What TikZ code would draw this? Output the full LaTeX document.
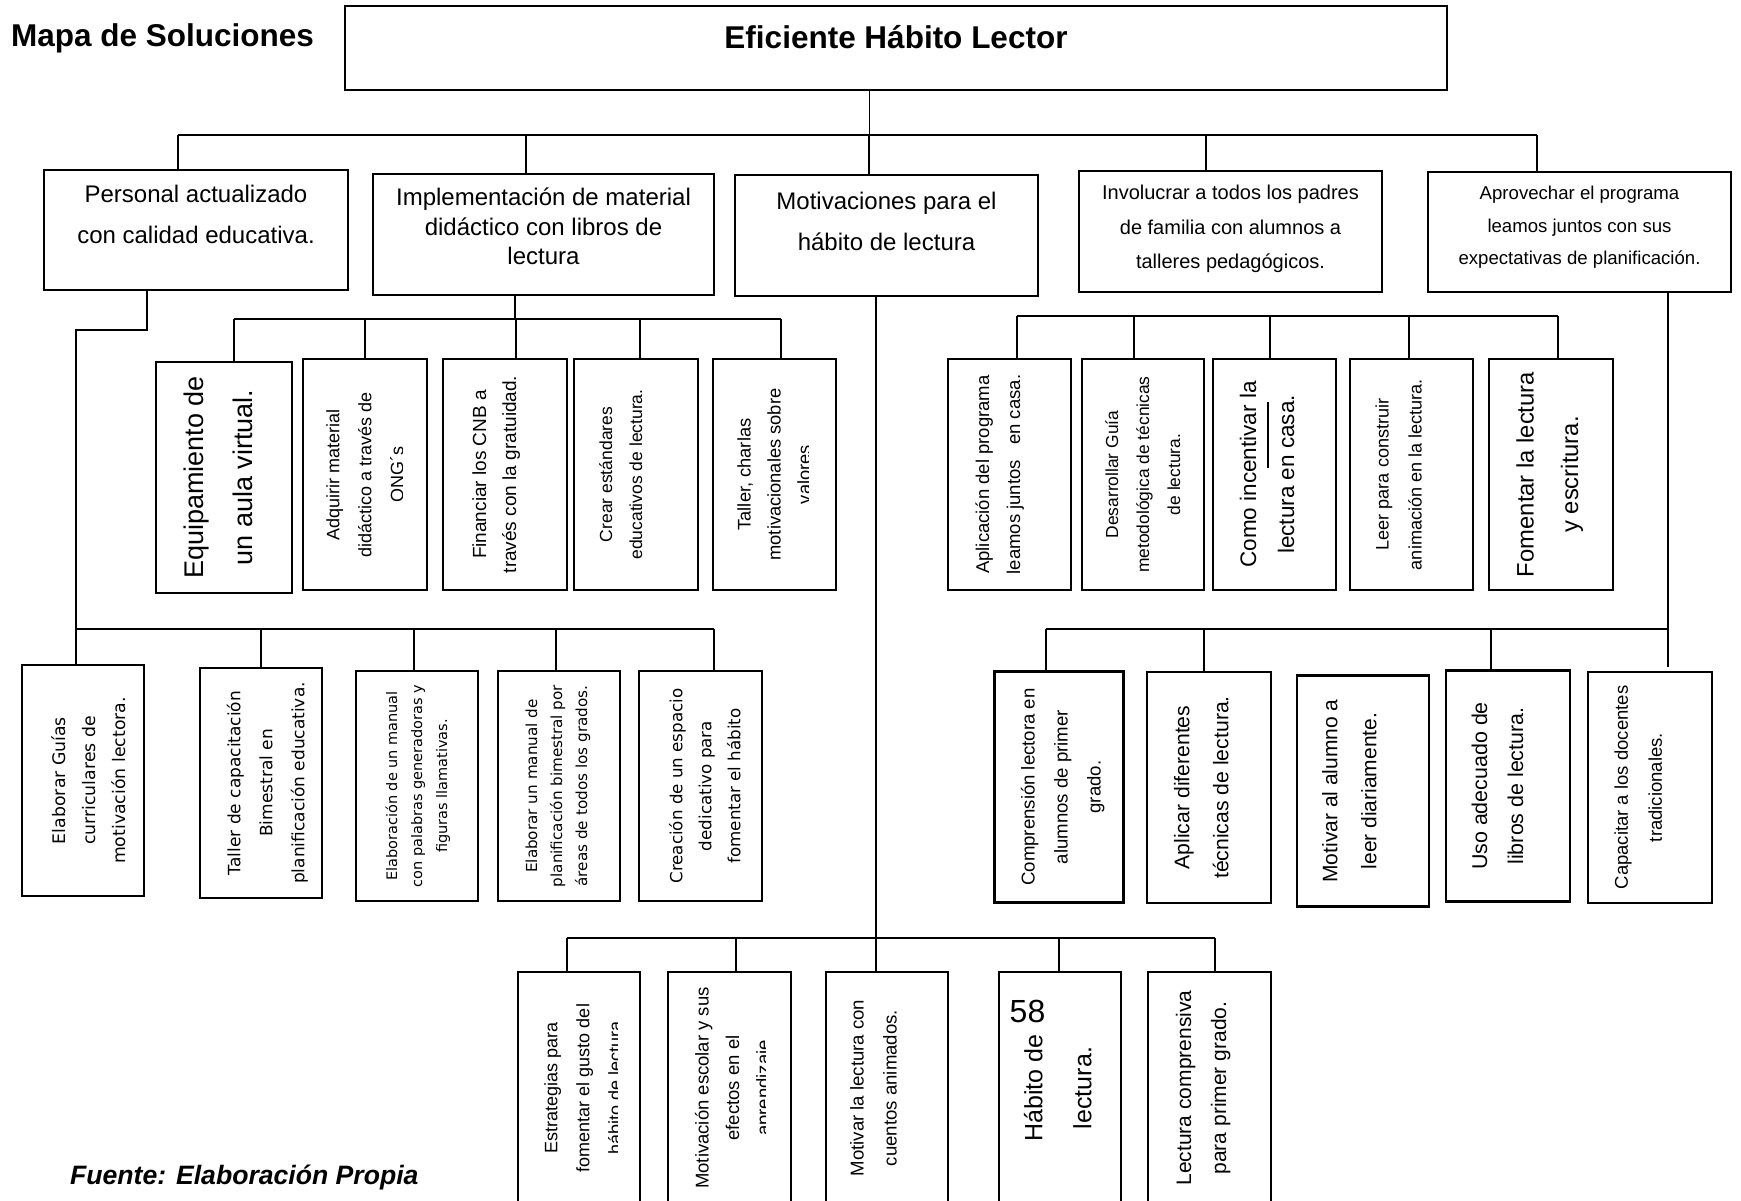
\documentclass[tikz,border=0pt]{standalone}
\usepackage{fontspec}
\usepackage{graphicx}
\setmainfont{Liberation Sans}
\newfontfamily\dejavu{DejaVu Sans}

\begin{document}
\begin{tikzpicture}[x=1pt, y=-1pt]
  \tikzstyle{box}=[draw, line width=2.2pt, inner sep=0pt]
  \tikzstyle{link}=[line width=1.8pt]
  \tikzstyle{trunk}=[line width=1.1pt]
  \tikzstyle{mask}=[fill=white]
  \newcommand{\boxlines}[1]{\begin{tabular}{@{}c@{}}#1\end{tabular}}
  \newcommand{\rotlines}[1]{\rotatebox{90}{\boxlines{#1}}}

  \path[use as bounding box, fill=white] (0,0) rectangle (1741,1200);

  % titles
  \node[anchor=base west, inner sep=0pt, font=\bfseries\fontsize{31.5}{38}\selectfont] (mapa) at (11,46) {Mapa de Soluciones};
  \node[box, line width=2.6pt, minimum width=1102pt, minimum height=84pt, text height=10pt, text depth=10pt,
        font=\bfseries\fontsize{31.5}{38}\selectfont] (title) at (896,48) {Eficiente Hábito Lector};
  \node[anchor=base west, inner sep=0pt, font=\bfseries\itshape\fontsize{26.6}{32}\selectfont] (fuente) at (70,1184) {Fuente: Elaboración Propia};

  % first level
  \node[box, minimum width=304pt, minimum height=120pt, font=\fontsize{24}{41}\selectfont] (personal) at (196,230)
    {\boxlines{Personal actualizado\\con calidad educativa.\\[30pt]}};
  \node[box, minimum width=341pt, minimum height=121pt, font=\fontsize{24}{29.5}\selectfont] (impl) at (543.5,234.5)
    {\boxlines{Implementación de material\\didáctico con libros de\\lectura\\[10pt]}};
  \node[box, minimum width=303pt, minimum height=121pt, font=\fontsize{24}{41}\selectfont] (motiv) at (886.5,235.5)
    {\boxlines{Motivaciones para el\\hábito de lectura\\[28pt]}};
  \node[box, minimum width=303pt, minimum height=121pt, font=\fontsize{20}{34.5}\selectfont] (invol) at (1230.5,231.5)
    {\boxlines{Involucrar a todos los padres\\de familia con alumnos a\\talleres pedagógicos.\\[8pt]}};
  \node[box, minimum width=303pt, minimum height=120pt, font=\fontsize{18.6}{32.5}\selectfont] (aprov) at (1579.5,232)
    {\boxlines{Aprovechar el programa\\leamos juntos con sus\\expectativas de planificación.\\[13pt]}};

  % material
  \node[box, minimum width=136pt, minimum height=231pt, font=\fontsize{27}{49}\selectfont] (equip) at (224,477.5)
    {\rotlines{Equipamiento de\\un aula virtual.}\hspace*{12pt}};
  \node[box, minimum width=124pt, minimum height=231pt, font=\fontsize{18}{32}\selectfont] (adquirir) at (365,474.5)
    {\rotlines{Adquirir material\\didáctico a través de\\ONG´s}};
  \node[box, minimum width=124pt, minimum height=231pt, font=\fontsize{19}{30}\selectfont] (financiar) at (505,474.5)
    {\rotlines{Financiar los CNB a\\través con la gratuidad.}\hspace*{20pt}};
  \node[box, minimum width=124pt, minimum height=231pt, font=\fontsize{17.5}{30}\selectfont] (crear) at (636,474.5)
    {\rotlines{Crear estándares\\educativos de lectura.}\hspace*{30pt}};
  \node[box, minimum width=123pt, minimum height=231pt, font=\fontsize{18.3}{30}\selectfont] (charlas) at (774.5,474.5)
    {\rotlines{Taller, charlas\\motivacionales sobre\\valores}};

  % padres de familia
  \node[box, minimum width=123pt, minimum height=231pt, font=\fontsize{18.5}{31}\selectfont] (aplicacion) at (1009.5,474.5)
    {\rotlines{Aplicación del programa\\leamos juntos\ \ \ en casa.}\hspace*{22pt}};
  \node[box, minimum width=122pt, minimum height=231pt, font=\fontsize{17.4}{31}\selectfont] (desarrollar) at (1143,474.5)
    {\rotlines{Desarrollar Guía\\metodológica de técnicas\\de lectura.}};
  \node[box, minimum width=123pt, minimum height=231pt, font=\fontsize{22.5}{38}\selectfont] (incentivar) at (1274.5,474.5)
    {\rotlines{Como incentivar la\\lectura en casa.}\hspace*{14pt}};
  \node[box, minimum width=123pt, minimum height=231pt, font=\fontsize{18.1}{33}\selectfont] (leer) at (1411.5,474.5)
    {\rotlines{Leer para construir\\animación en la lectura.}\hspace*{26pt}};
  \node[box, minimum width=124pt, minimum height=231pt, font=\fontsize{23.8}{44.5}\selectfont] (fomentar) at (1551,474.5)
    {\rotlines{Fomentar la lectura\\y escritura.}\hspace*{8pt}};

  % personal
  \node[box, minimum width=122pt, minimum height=231pt, font=\dejavu\fontsize{17.3}{30}\selectfont] (guias) at (83,780.5)
    {\hspace*{13pt}\rotlines{Elaborar Guías\\curriculares de\\motivación lectora.}};
  \node[box, minimum width=121.5pt, minimum height=230pt, font=\dejavu\fontsize{17}{32}\selectfont] (tallercap) at (261,783)
    {\hspace*{10pt}\rotlines{Taller de capacitación\\Bimestral en\\planificación educativa.}};
  \node[box, minimum width=122.5pt, minimum height=230pt, font=\dejavu\fontsize{14.5}{25}\selectfont] (manual1) at (417,786)
    {\rotlines{Elaboración de un manual\\con palabras generadoras y\\figuras llamativas.}};
  \node[box, minimum width=122.5pt, minimum height=230pt, font=\dejavu\fontsize{15.2}{25}\selectfont] (manual2) at (559,786)
    {\rotlines{Elaborar un manual de\\planificación bimestral por\\áreas de todos los grados.}\hspace*{4pt}};
  \node[box, minimum width=123pt, minimum height=230pt, font=\dejavu\fontsize{16.7}{29}\selectfont] (espacio) at (700.5,786)
    {\hspace*{10pt}\rotlines{Creación de un espacio\\dedicativo para\\fomentar el hábito}};

  % programa leamos juntos
  \node[box, minimum width=129pt, minimum height=231pt, font=\fontsize{18.6}{33}\selectfont] (comprension) at (1059,787)
    {\hspace*{4pt}\rotlines{Comprensión lectora en\\alumnos de primer\\grado.}};
  \node[box, minimum width=123.5pt, minimum height=231pt, font=\fontsize{21.2}{39}\selectfont] (aplicar) at (1209,787.5)
    {\rotlines{Aplicar diferentes\\técnicas de lectura.}\hspace*{16pt}};
  \node[box, minimum width=132.5pt, minimum height=231pt, font=\fontsize{21}{39}\selectfont] (motivar) at (1363,791)
    {\rotlines{Motivar al alumno a\\leer diariamente.}\hspace*{28pt}};
  \node[box, minimum width=124pt, minimum height=231pt, font=\fontsize{21.4}{36}\selectfont] (uso) at (1508,786)
    {\rotlines{Uso adecuado de\\libros de lectura.}\hspace*{20pt}};
  \node[box, minimum width=123.5pt, minimum height=231pt, font=\fontsize{18.5}{34}\selectfont] (capacitar) at (1650,787.5)
    {\rotlines{Capacitar a los docentes\\tradicionales.}\hspace*{24pt}};

  % motivaciones
  \node[box, minimum width=122pt, minimum height=232pt, font=\fontsize{18}{32}\selectfont] (estrategias) at (579,1088)
    {\hspace*{8pt}\rotlines{Estrategias para\\fomentar el gusto del\\hábito de lectura}};
  \node[box, minimum width=123pt, minimum height=232pt, font=\fontsize{18.5}{30.5}\selectfont] (escolar) at (729.5,1088)
    {\hspace*{7pt}\rotlines{Motivación escolar y sus\\efectos en el\\aprendizaje}};
  \node[box, minimum width=122pt, minimum height=232pt, font=\fontsize{18.6}{33}\selectfont] (cuentos) at (887,1088)
    {\rotlines{Motivar la lectura con\\cuentos animados.}\hspace*{27pt}};
  \node[box, minimum width=122pt, minimum height=232pt, font=\fontsize{25}{49}\selectfont] (habito) at (1060,1088)
    {\rotlines{Hábito de\\lectura.}\hspace*{6pt}};
  \node[box, minimum width=123pt, minimum height=232pt, font=\fontsize{21}{35}\selectfont] (comprensiva) at (1209.5,1088)
    {\rotlines{Lectura comprensiva\\para primer grado.}\hspace*{16pt}};
  \node[inner sep=0pt, font=\fontsize{32}{38}\selectfont] (pagina) at (1027.5,1011.5) {58};

  % cut lines of text
  \fill[mask] (403,361) rectangle (425.8,588.8);
  \fill[mask] (809,361) rectangle (834.6,588.8);
  \fill[mask] (618,974) rectangle (638.6,1200);
  \fill[mask] (766,974) rectangle (789.6,1200);
  \draw[line width=1.5pt] ([xshift=-6.5pt, yshift=72.5pt]incentivar.center) -- ([xshift=-6.5pt, yshift=6.5pt]incentivar.center);

  % connectors, first level
  \coordinate (b0l) at (178,135);
  \coordinate (b0r) at (1537,135);
  \draw[trunk] ([xshift=-26.5pt]title.south) -- ([xshift=-26.5pt]title.south |- b0l);
  \draw[link, line width=2.3pt] (b0l) -- (b0r);
  \draw[link] (b0l) -- (b0l |- personal.north);
  \draw[link] ([xshift=-17.5pt]impl.north |- b0l) -- ([xshift=-17.5pt]impl.north);
  \draw[trunk] ([xshift=-17.5pt]motiv.north |- b0l) -- ([xshift=-17.5pt]motiv.north);
  \draw[link] ([xshift=-24.7pt]invol.north |- b0l) -- ([xshift=-24.7pt]invol.north);
  \draw[link] (b0r) -- (b0r |- aprov.north);

  % personal
  \coordinate (b1l) at (76,629);
  \coordinate (b1r) at (714,629);
  \draw[link] ([xshift=-49pt]personal.south) -- ++(0,39) -| (b1l) -- (b1r);
  \draw[link] (b1l) -- (b1l |- guias.north);
  \draw[link] (tallercap.north |- b1l) -- (tallercap.north);
  \draw[link] ([xshift=-3pt]manual1.north |- b1l) -- ([xshift=-3pt]manual1.north);
  \draw[link] ([xshift=-3pt]manual2.north |- b1l) -- ([xshift=-3pt]manual2.north);
  \draw[link] (b1r) -- (b1r |- espacio.north);

  % material
  \coordinate (b2l) at (234,319);
  \coordinate (b2r) at (781,319);
  \draw[link] ([xshift=-28.5pt]impl.south) -- ([xshift=-28.5pt]impl.south |- b2l);
  \draw[link] (b2l) -- (b2r);
  \draw[link] (b2l) -- (b2l |- equip.north);
  \draw[link] (adquirir.north |- b2l) -- (adquirir.north);
  \draw[link] ([xshift=11pt]financiar.north |- b2l) -- ([xshift=11pt]financiar.north);
  \draw[link] ([xshift=4pt]crear.north |- b2l) -- ([xshift=4pt]crear.north);
  \draw[link] (b2r) -- (b2r |- charlas.north);

  % motivaciones
  \coordinate (b3l) at (567,938);
  \coordinate (b3r) at (1215,938);
  \draw[link] ([xshift=-10.5pt]motiv.south) -- ([xshift=-10.5pt]motiv.south |- b3l);
  \draw[link] (b3l) -- (b3r);
  \draw[link] (b3l) -- (b3l |- estrategias.north);
  \draw[link] ([xshift=6.5pt]escolar.north |- b3l) -- ([xshift=6.5pt]escolar.north);
  \draw[link] ([xshift=-11pt]cuentos.north |- b3l) -- ([xshift=-11pt]cuentos.north);
  \draw[link] ([xshift=-1pt]habito.north |- b3l) -- ([xshift=-1pt]habito.north);
  \draw[link] (b3r) -- (b3r |- comprensiva.north);

  % padres de familia
  \coordinate (b4l) at (1017,316);
  \coordinate (b4r) at (1558,316);
  \draw[link] (b4l) -- (b4r);
  \draw[link] (b4l) -- (b4l |- aplicacion.north);
  \draw[link] ([xshift=-9pt]desarrollar.north |- b4l) -- ([xshift=-9pt]desarrollar.north);
  \draw[link] ([xshift=-4.5pt]incentivar.north |- b4l) -- ([xshift=-4.5pt]incentivar.north);
  \draw[link] ([xshift=-2.5pt]leer.north |- b4l) -- ([xshift=-2.5pt]leer.north);
  \draw[link] (b4r) -- (b4r |- fomentar.north);

  % programa leamos juntos
  \coordinate (b5l) at (1046,629);
  \coordinate (b5r) at (1668,629);
  \draw[link] ([xshift=88.5pt]aprov.south) -- ([xshift=18pt, yshift=4pt]capacitar.north);
  \draw[link] (b5l) -- (b5r);
  \draw[link] (b5l) -- (b5l |- comprension.north);
  \draw[link] ([xshift=-5pt]aplicar.north |- b5l) -- ([xshift=-5pt]aplicar.north);
  \draw[link] ([xshift=-17pt]uso.north |- b5l) -- ([xshift=-17pt]uso.north);

\end{tikzpicture}
\end{document}
